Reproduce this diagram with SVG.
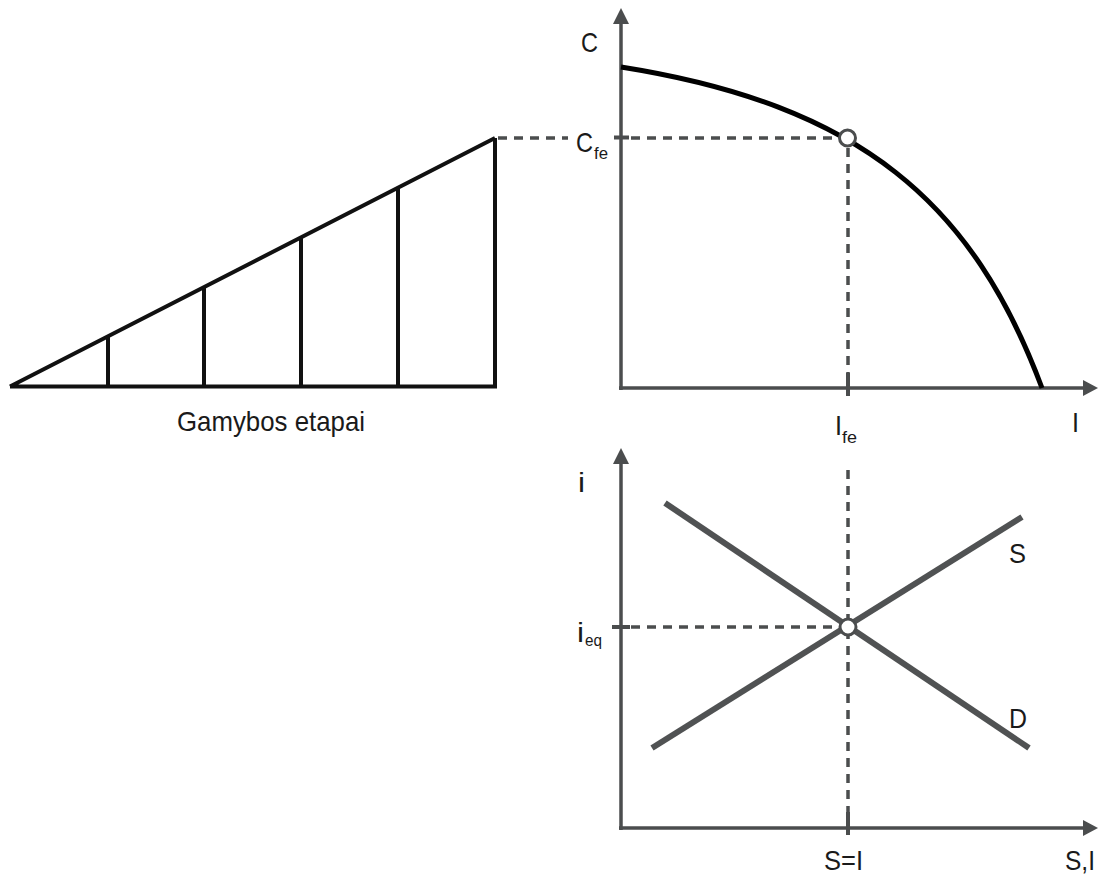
<svg xmlns="http://www.w3.org/2000/svg" width="1098" height="876" viewBox="0 0 1098 876">
<style>
.ax{stroke:#4b4d4e;stroke-width:3.5;fill:none}
.ah{fill:#4b4d4e}
.dash{stroke:#4b4d4e;stroke-width:3.5;stroke-dasharray:9 7;fill:none}
.tk{stroke:#4b4d4e;stroke-width:4}
.sd{stroke:#505253;stroke-width:6;fill:none}
.tri{stroke:#111;stroke-width:4;fill:none}
.pt{fill:#fff;stroke:#4b4d4e;stroke-width:3}
.t{font-family:'Liberation Sans',Arial,sans-serif;font-size:28px;fill:#1a1a1a}
.s{font-family:'Liberation Sans',Arial,sans-serif;font-size:17px;fill:#1a1a1a}
</style>
<rect width="1098" height="876" fill="#fff"/>
<g id="triangle">
<path class="tri" d="M10 386.5 L495 386.5 L495 138 M10 386.5 L495 138" stroke-width="3.5"/>
<line class="tri" x1="108" y1="386" x2="108" y2="336"/>
<line class="tri" x1="204" y1="386" x2="204" y2="287"/>
<line class="tri" x1="301" y1="386" x2="301" y2="238"/>
<line class="tri" x1="398" y1="386" x2="398" y2="188"/>
<text class="t" x="177" y="431" textLength="188" lengthAdjust="spacingAndGlyphs">Gamybos etapai</text>
</g>
<g id="top-axes">
<line class="ax" x1="621" y1="390" x2="621" y2="22"/>
<polygon class="ah" points="621,8 613,24 629,24"/>
<line class="ax" x1="619" y1="388" x2="1085" y2="388"/>
<polygon class="ah" points="1098,388 1083,380 1083,396"/>
<line class="tk" x1="614" y1="137.5" x2="629" y2="137.5"/>
<line class="tk" x1="848" y1="373" x2="848" y2="396"/>
<text class="t" x="581" y="52" textLength="17" lengthAdjust="spacingAndGlyphs">C</text>
<text class="t" x="1072" y="432" textLength="7" lengthAdjust="spacingAndGlyphs">I</text>
<text class="t" x="576" y="152" textLength="17" lengthAdjust="spacingAndGlyphs">C</text>
<text class="s" x="594" y="159" textLength="14" lengthAdjust="spacingAndGlyphs">fe</text>
<text class="t" x="835" y="435" textLength="7" lengthAdjust="spacingAndGlyphs">I</text>
<text class="s" x="842" y="443" textLength="15" lengthAdjust="spacingAndGlyphs">fe</text>
</g>
<g id="ppf-curve">
<path d="M621 67 C861 105 973 203 1042 388" stroke="#000" stroke-width="5" fill="none"/>
</g>
<g id="bottom-axes">
<line class="ax" x1="621" y1="830" x2="621" y2="462"/>
<polygon class="ah" points="621,448 613,464 629,464"/>
<line class="ax" x1="619" y1="828" x2="1085" y2="828"/>
<polygon class="ah" points="1098,828 1083,820 1083,836"/>
<line class="tk" x1="612" y1="627" x2="630" y2="627"/>
<line class="tk" x1="848" y1="812" x2="848" y2="835"/>
<text class="t" x="578" y="492" textLength="7" lengthAdjust="spacingAndGlyphs">i</text>
<text class="t" x="577" y="642" textLength="7" lengthAdjust="spacingAndGlyphs">i</text>
<text class="s" x="585" y="646" textLength="17" lengthAdjust="spacingAndGlyphs">eq</text>
<text class="t" x="824" y="870" textLength="39" lengthAdjust="spacingAndGlyphs">S=I</text>
<text class="t" x="1065" y="870" textLength="30" lengthAdjust="spacingAndGlyphs">S,I</text>
</g>
<g id="supply-demand">
<line class="sd" x1="665" y1="503" x2="1029" y2="748"/>
<line class="sd" x1="652" y1="748" x2="1022" y2="517"/>
<text class="t" x="1009" y="563" textLength="17" lengthAdjust="spacingAndGlyphs">S</text>
<text class="t" x="1009" y="728" textLength="18" lengthAdjust="spacingAndGlyphs">D</text>
</g>
<g id="connectors">
<line class="dash" x1="498" y1="138" x2="568" y2="138"/>
<line class="dash" x1="631" y1="138" x2="838" y2="138"/>
<line class="dash" x1="848" y1="148" x2="848" y2="386"/>
<line class="dash" x1="848" y1="470" x2="848" y2="828"/>
<line class="dash" x1="631" y1="627" x2="839" y2="627"/>
</g>
<g id="points">
<circle class="pt" cx="847.5" cy="138" r="8"/>
<circle class="pt" cx="848" cy="627" r="8"/>
</g>
</svg>
